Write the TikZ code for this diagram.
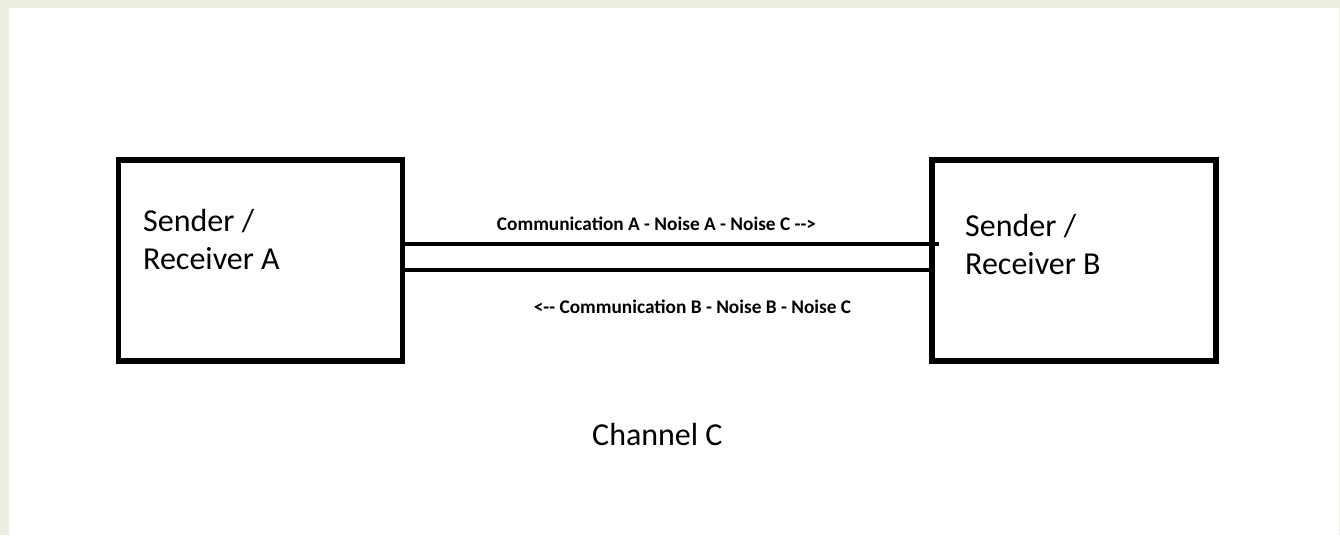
\documentclass[tikz,border=0pt]{standalone}
\usepackage{fontspec}
\setmainfont{Carlito}
\usetikzlibrary{calc}
\definecolor{frame}{HTML}{EDEEE1}
\tikzset{
  party/.style={draw=black, line width=5.5pt, minimum width=284pt, minimum height=201pt, inner sep=0pt, fill=white},
  partylabel/.style={anchor=base west, inner sep=0pt, align=left, font=\fontsize{32}{37.5}\selectfont},
  flowlabel/.style={anchor=base, inner sep=0pt, font=\fontsize{19.3}{22}\selectfont\bfseries},
  wire/.style={line width=4.5pt, draw=black}
}
\begin{document}
\begin{tikzpicture}[x=1pt, y=-1pt]
  % page and paper
  \fill[frame] (0,0) rectangle (1340,535);
  \fill[white] (9,8) rectangle (1339,535);
  \useasboundingbox (0,0) rectangle (1340,535);

  % the two parties
  \node[party] (a) at (260.5,260.5) {};
  \node[party] (b) at (1074,260.5) {};
  \node[partylabel] (alab) at (143,269) {Sender /\\Receiver A};
  \node[partylabel] (blab) at (965,274) {Sender /\\Receiver B};

  % the channel: two wires between the parties, the upper one poking
  % slightly through the left side of B
  \coordinate (upend) at ($(b.west)+(9.5,-16.5)$);
  \draw[wire] (a.east |- 0,244) -- (upend);
  \draw[wire] (a.east |- 0,270) -- (b.west |- 0,270);

  \node[flowlabel] (fwd) at (656.5,230) {Communication A - Noise A - Noise C -{}-{}>};
  \node[flowlabel] (bwd) at (692.5,313) {<-{}- Communication B - Noise B - Noise C};

  \node[anchor=base west, inner sep=0pt, font=\fontsize{32}{38}\selectfont] (chan) at (592,445) {Channel C};
\end{tikzpicture}
\end{document}
